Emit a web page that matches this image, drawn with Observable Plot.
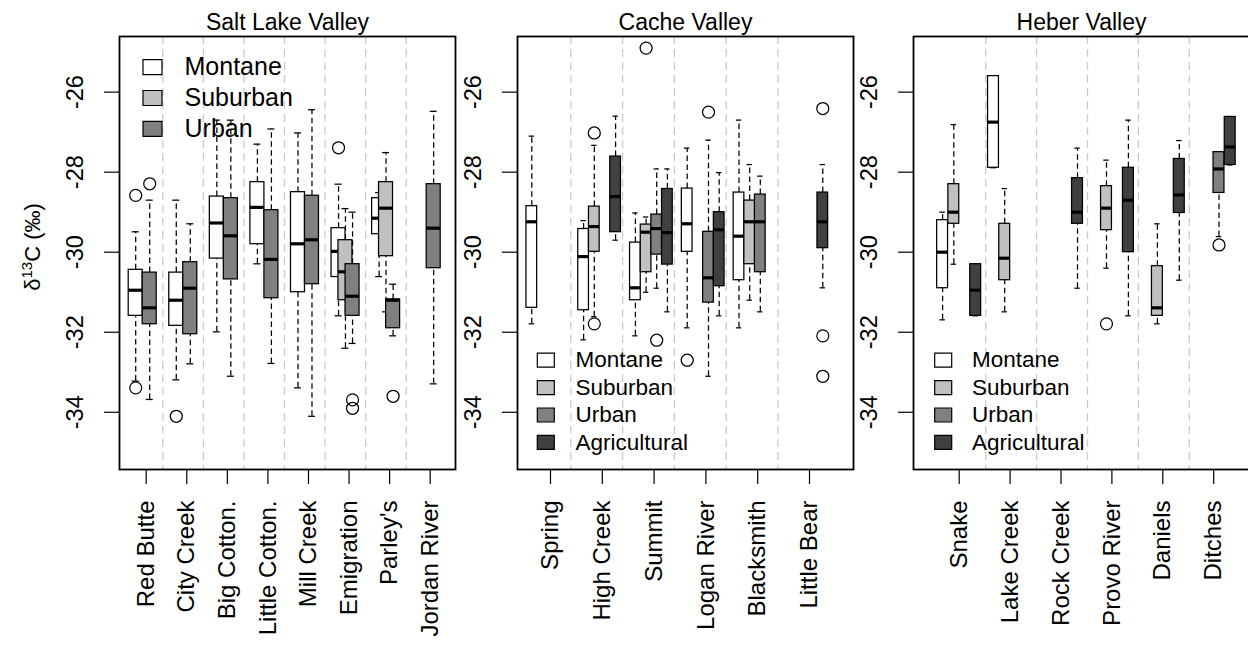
<!DOCTYPE html>
<html><head><meta charset="utf-8">
<script src="https://cdn.jsdelivr.net/npm/d3@7"></script>
<script src="https://cdn.jsdelivr.net/npm/@observablehq/plot@0.6"></script>
<style>
html,body{margin:0;padding:0;background:#fff;overflow:hidden;}
#wrap{position:relative;width:1248px;height:647px;overflow:hidden;background:#fff;}
.panel{position:absolute;top:0;}
</style></head><body><div id="wrap"></div>
<script>
// ---------- data ----------
const landUses = ["Montane", "Suburban", "Urban", "Agricultural"];
const landFills = ["#ffffff", "#c0c0c0", "#808080", "#404040"];
const yTicks = [-26, -28, -30, -32, -34];
const yDomain = [-35.43, -24.61];
const yLabelParts = ["δ", "13", "C (‰)"];

const saltTitle = "Salt Lake Valley";
const saltSites = ["Red Butte", "City Creek", "Big Cotton.", "Little Cotton.", "Mill Creek", "Emigration", "Parley's", "Jordan River"];
// [site, land use, lower whisker, Q1, median, Q3, upper whisker]
const saltBoxes = [
  ["Red Butte", "Montane", -33.22, -31.59, -30.95, -30.44, -29.49],
  ["Red Butte", "Urban", -33.68, -31.80, -31.39, -30.51, -28.70],
  ["City Creek", "Montane", -33.19, -31.84, -31.20, -30.51, -28.70],
  ["City Creek", "Urban", -32.79, -32.05, -30.90, -30.25, -29.29],
  ["Big Cotton.", "Montane", -31.99, -30.16, -29.27, -28.61, -26.70],
  ["Big Cotton.", "Urban", -33.10, -30.68, -29.59, -28.65, -26.70],
  ["Little Cotton.", "Montane", -30.29, -29.80, -28.88, -28.25, -27.30],
  ["Little Cotton.", "Urban", -32.78, -31.15, -30.18, -28.95, -26.92],
  ["Mill Creek", "Montane", -33.39, -31.00, -29.79, -28.50, -27.02],
  ["Mill Creek", "Urban", -34.10, -30.80, -29.69, -28.59, -26.44],
  ["Emigration", "Montane", -31.59, -30.62, -29.98, -29.40, -28.30],
  ["Emigration", "Suburban", -32.40, -31.20, -30.49, -29.70, -28.91],
  ["Emigration", "Urban", -32.28, -31.59, -31.10, -30.30, -29.00],
  ["Parley's", "Montane", -30.61, -29.55, -29.15, -28.65, -28.51],
  ["Parley's", "Suburban", -31.49, -30.10, -28.90, -28.25, -27.51],
  ["Parley's", "Urban", -32.09, -31.90, -31.20, -31.18, -30.80],
  ["Jordan River", "Urban", -33.29, -30.40, -29.40, -28.30, -26.48]
];
const saltOutliers = [
  ["Red Butte", "Montane", -28.58], ["Red Butte", "Montane", -33.39],
  ["Red Butte", "Urban", -28.29], ["City Creek", "Montane", -34.10],
  ["Emigration", "Montane", -27.39], ["Emigration", "Urban", -33.69],
  ["Emigration", "Urban", -33.90], ["Parley's", "Urban", -33.60]
];

const cacheTitle = "Cache Valley";
const cacheSites = ["Spring", "High Creek", "Summit", "Logan River", "Blacksmith", "Little Bear"];
const cacheBoxes = [
  ["Spring", "Montane", -31.79, -31.39, -29.24, -28.85, -27.10],
  ["High Creek", "Montane", -32.19, -31.45, -30.11, -29.42, -29.21],
  ["High Creek", "Suburban", -31.61, -29.99, -29.36, -28.86, -27.33],
  ["High Creek", "Agricultural", -29.70, -29.50, -28.61, -27.61, -26.60],
  ["Summit", "Montane", -32.09, -31.20, -30.89, -29.76, -29.02],
  ["Summit", "Suburban", -31.00, -30.50, -29.50, -29.31, -29.12],
  ["Summit", "Urban", -30.90, -30.06, -29.41, -29.06, -27.92],
  ["Summit", "Agricultural", -31.49, -30.31, -29.51, -28.42, -27.92],
  ["Logan River", "Montane", -31.89, -29.99, -29.29, -28.41, -27.40],
  ["Logan River", "Urban", -33.10, -31.26, -30.64, -29.49, -27.20],
  ["Logan River", "Agricultural", -31.59, -30.85, -29.44, -29.00, -28.01],
  ["Blacksmith", "Montane", -31.89, -30.70, -29.60, -28.51, -26.70],
  ["Blacksmith", "Suburban", -31.20, -30.30, -29.24, -28.71, -27.81],
  ["Blacksmith", "Urban", -31.49, -30.50, -29.24, -28.56, -28.10],
  ["Little Bear", "Agricultural", -30.89, -29.90, -29.24, -28.51, -27.81]
];
const cacheOutliers = [
  ["High Creek", "Suburban", -27.02], ["High Creek", "Suburban", -31.79],
  ["Summit", "Suburban", -24.90], ["Summit", "Urban", -32.20],
  ["Logan River", "Montane", -32.70], ["Logan River", "Urban", -26.50],
  ["Little Bear", "Agricultural", -26.41], ["Little Bear", "Agricultural", -32.09],
  ["Little Bear", "Agricultural", -33.10]
];

const heberTitle = "Heber Valley";
const heberSites = ["Snake", "Lake Creek", "Rock Creek", "Provo River", "Daniels", "Ditches"];
const heberBoxes = [
  ["Snake", "Montane", -31.69, -30.90, -30.00, -29.20, -29.00],
  ["Snake", "Suburban", -30.30, -29.29, -29.00, -28.30, -26.81],
  ["Snake", "Agricultural", -31.59, -31.59, -30.95, -30.30, -30.30],
  ["Lake Creek", "Montane", -27.89, -27.89, -26.75, -25.60, -25.60],
  ["Lake Creek", "Suburban", -31.49, -30.70, -30.15, -29.29, -28.41],
  ["Rock Creek", "Agricultural", -30.90, -29.29, -29.00, -28.15, -27.40],
  ["Provo River", "Suburban", -30.40, -29.45, -28.90, -28.35, -27.70],
  ["Provo River", "Agricultural", -31.59, -30.00, -28.70, -27.89, -26.70],
  ["Daniels", "Suburban", -31.79, -31.59, -31.39, -30.35, -29.29],
  ["Daniels", "Agricultural", -30.70, -29.02, -28.57, -27.67, -27.21],
  ["Ditches", "Urban", -29.61, -28.52, -27.92, -27.50, -27.50],
  ["Ditches", "Agricultural", -27.82, -27.82, -27.37, -26.62, -26.62]
];
const heberOutliers = [
  ["Provo River", "Suburban", -31.79], ["Ditches", "Urban", -29.82]
];

// ---------- drawing ----------
const FONT = "'Liberation Sans', Arial, Helvetica, sans-serif";
const PANEL_W = 336;
const yLabelText = yLabelParts.join("");

function rectSymbol(w, h) {
  return {draw(ctx) { ctx.rect(-w / 2, -h / 2, w, h); }};
}

function makePanel(cfg) {
  const ppu = cfg.pxPerUnit;
  const xDomain = [(cfg.frameLeft - cfg.firstTick) / ppu, (cfg.frameLeft + PANEL_W - cfg.firstTick) / ppu];
  const offs = cfg.offsetsPx.map(p => p / ppu);
  const bw = cfg.boxPx / ppu;
  const siteIndex = new Map(cfg.sites.map((s, i) => [s, i]));
  const useIndex = new Map(landUses.map((u, i) => [u, i]));

  const boxes = cfg.boxes.map(([site, use, lo, q1, med, q3, hi]) => {
    const k = useIndex.get(use);
    const x = siteIndex.get(site) + offs[k];
    return {k, x, x1: x - bw / 2, x2: x + bw / 2, c1: x - bw / 4, c2: x + bw / 4, lo, q1, med, q3, hi};
  });
  const outs = cfg.outliers.map(([site, use, v]) => {
    const k = useIndex.get(use);
    return {k, x: siteIndex.get(site) + offs[k], v};
  });

  const marks = [];
  // separators
  marks.push(Plot.ruleX(d3.range(cfg.sites.length - 1), {
    x: i => i + cfg.sepPx / ppu, stroke: "#cccccc", strokeWidth: 1.3, strokeDasharray: "8,5"
  }));
  // boxes, drawn land use by land use
  landUses.forEach((u, k) => {
    const b = boxes.filter(d => d.k === k);
    const o = outs.filter(d => d.k === k);
    if (!b.length) return;
    marks.push(
      Plot.ruleX(b, {x: "x", y1: "q3", y2: "hi", stroke: "black", strokeWidth: 1.25, strokeDasharray: "5.5,3.5"}),
      Plot.ruleX(b, {x: "x", y1: "lo", y2: "q1", stroke: "black", strokeWidth: 1.25, strokeDasharray: "5.5,3.5"}),
      Plot.ruleY(b, {y: "hi", x1: "c1", x2: "c2", stroke: "black", strokeWidth: 1.25}),
      Plot.ruleY(b, {y: "lo", x1: "c1", x2: "c2", stroke: "black", strokeWidth: 1.25}),
      Plot.rect(b, {x1: "x1", x2: "x2", y1: "q1", y2: "q3", fill: landFills[k], stroke: "black", strokeWidth: 1.25}),
      Plot.ruleY(b, {y: "med", x1: "x1", x2: "x2", stroke: "black", strokeWidth: 3.2}),
      Plot.dot(o, {x: "x", y: "v", r: 6, fill: "none", stroke: "black", strokeWidth: 1.25})
    );
  });
  // legend
  const L = cfg.legend;
  L.uses.forEach((k, i) => {
    const dy = L.rowY + i * L.rowH;
    marks.push(
      Plot.dot([0], {frameAnchor: "top-left", dx: L.swX, dy, r: 5, symbol: rectSymbol(L.swW, L.swH),
        fill: landFills[k], stroke: "black", strokeWidth: 1.2}),
      Plot.text([landUses[k]], {frameAnchor: "top-left", dx: L.txtX, dy, textAnchor: "start",
        lineAnchor: "middle", fontSize: L.fontSize, fill: "black"})
    );
  });
  // axes
  marks.push(
    Plot.axisY(yTicks, {tickSize: 15, tickFormat: () => "", label: null, stroke: "black", strokeWidth: 1.2}),
    Plot.text(yTicks, {y: d => d, text: d => String(d), frameAnchor: "left", dx: -44, rotate: -90,
      textAnchor: "middle", lineAnchor: "middle", fontSize: 23.5, fill: "black"}),
    Plot.axisX(d3.range(cfg.sites.length), {tickSize: 15, tickFormat: () => "", label: null, stroke: "black", strokeWidth: 1.2}),
    Plot.text(cfg.sites, {x: (d, i) => i, text: d => d, frameAnchor: "bottom", dy: 31, rotate: -90,
      textAnchor: "end", lineAnchor: "middle", fontSize: 24, fill: "black"}),
    Plot.text([cfg.title], {frameAnchor: "top", dy: -13.5, lineAnchor: "middle", fontSize: 23, fill: "black"}),
    Plot.frame({stroke: "black", strokeWidth: 1.8})
  );
  if (cfg.yLabel) {
    marks.push(Plot.text([yLabelText], {frameAnchor: "left", dx: -87, dy: -6, rotate: -90,
      textAnchor: "middle", lineAnchor: "middle", fontSize: 22, fill: "black"}));
  }

  const width = cfg.marginLeft + PANEL_W + 4;
  const chart = Plot.plot({
    width, height: 647,
    marginLeft: cfg.marginLeft, marginRight: 4, marginTop: 36, marginBottom: 178,
    x: {domain: xDomain, axis: null},
    y: {domain: yDomain, axis: null},
    style: {fontFamily: FONT, background: "transparent", overflow: "visible", color: "black"},
    marks
  });
  // rebuild the y label with a real superscript
  if (cfg.yLabel) {
    chart.querySelectorAll("text").forEach(t => {
      if (t.textContent === yLabelText) {
        const ns = "http://www.w3.org/2000/svg";
        const target = t.querySelector("tspan") || t;
        target.textContent = "";
        const a = document.createElementNS(ns, "tspan"); a.textContent = yLabelParts[0];
        const s = document.createElementNS(ns, "tspan"); s.textContent = yLabelParts[1];
        s.setAttribute("font-size", "15"); s.setAttribute("dy", "-8");
        const c = document.createElementNS(ns, "tspan"); c.textContent = yLabelParts[2];
        c.setAttribute("dy", "8");
        target.appendChild(a); target.appendChild(s); target.appendChild(c);
      }
    });
  }
  const div = document.createElement("div");
  div.className = "panel";
  div.style.left = (cfg.frameLeft - cfg.marginLeft) + "px";
  div.style.width = width + "px";
  div.appendChild(chart);
  document.getElementById("wrap").appendChild(div);
}

makePanel({
  title: saltTitle, sites: saltSites, boxes: saltBoxes, outliers: saltOutliers, yLabel: true,
  frameLeft: 119, marginLeft: 119, firstTick: 145.7, pxPerUnit: 40.57,
  offsetsPx: [-10.5, -3.6, 3.5, 10.5], boxPx: 14, sepPx: 16.6,
  legend: {uses: [0, 1, 2], swX: 33, swW: 19, swH: 15, rowY: 30.7, rowH: 30.8, txtX: 65, fontSize: 25}
});
makePanel({
  title: cacheTitle, sites: cacheSites, boxes: cacheBoxes, outliers: cacheOutliers,
  frameLeft: 517, marginLeft: 60, firstTick: 550, pxPerUnit: 51.8,
  offsetsPx: [-18.7, -8, 2.6, 13.3], boxPx: 10.7, sepPx: 20.3,
  legend: {uses: [0, 1, 2, 3], swX: 28.3, swW: 17, swH: 14, rowY: 323.7, rowH: 27.4, txtX: 58, fontSize: 22.5}
});
makePanel({
  title: heberTitle, sites: heberSites, boxes: heberBoxes, outliers: heberOutliers,
  frameLeft: 913.3, marginLeft: 60, firstTick: 959, pxPerUnit: 50.9,
  offsetsPx: [-16.6, -5.4, 5.3, 16.5], boxPx: 10.9, sepPx: 26.5,
  legend: {uses: [0, 1, 2, 3], swX: 29.7, swW: 17, swH: 14, rowY: 323.7, rowH: 27.4, txtX: 58.4, fontSize: 22.5}
});
</script></body></html>
